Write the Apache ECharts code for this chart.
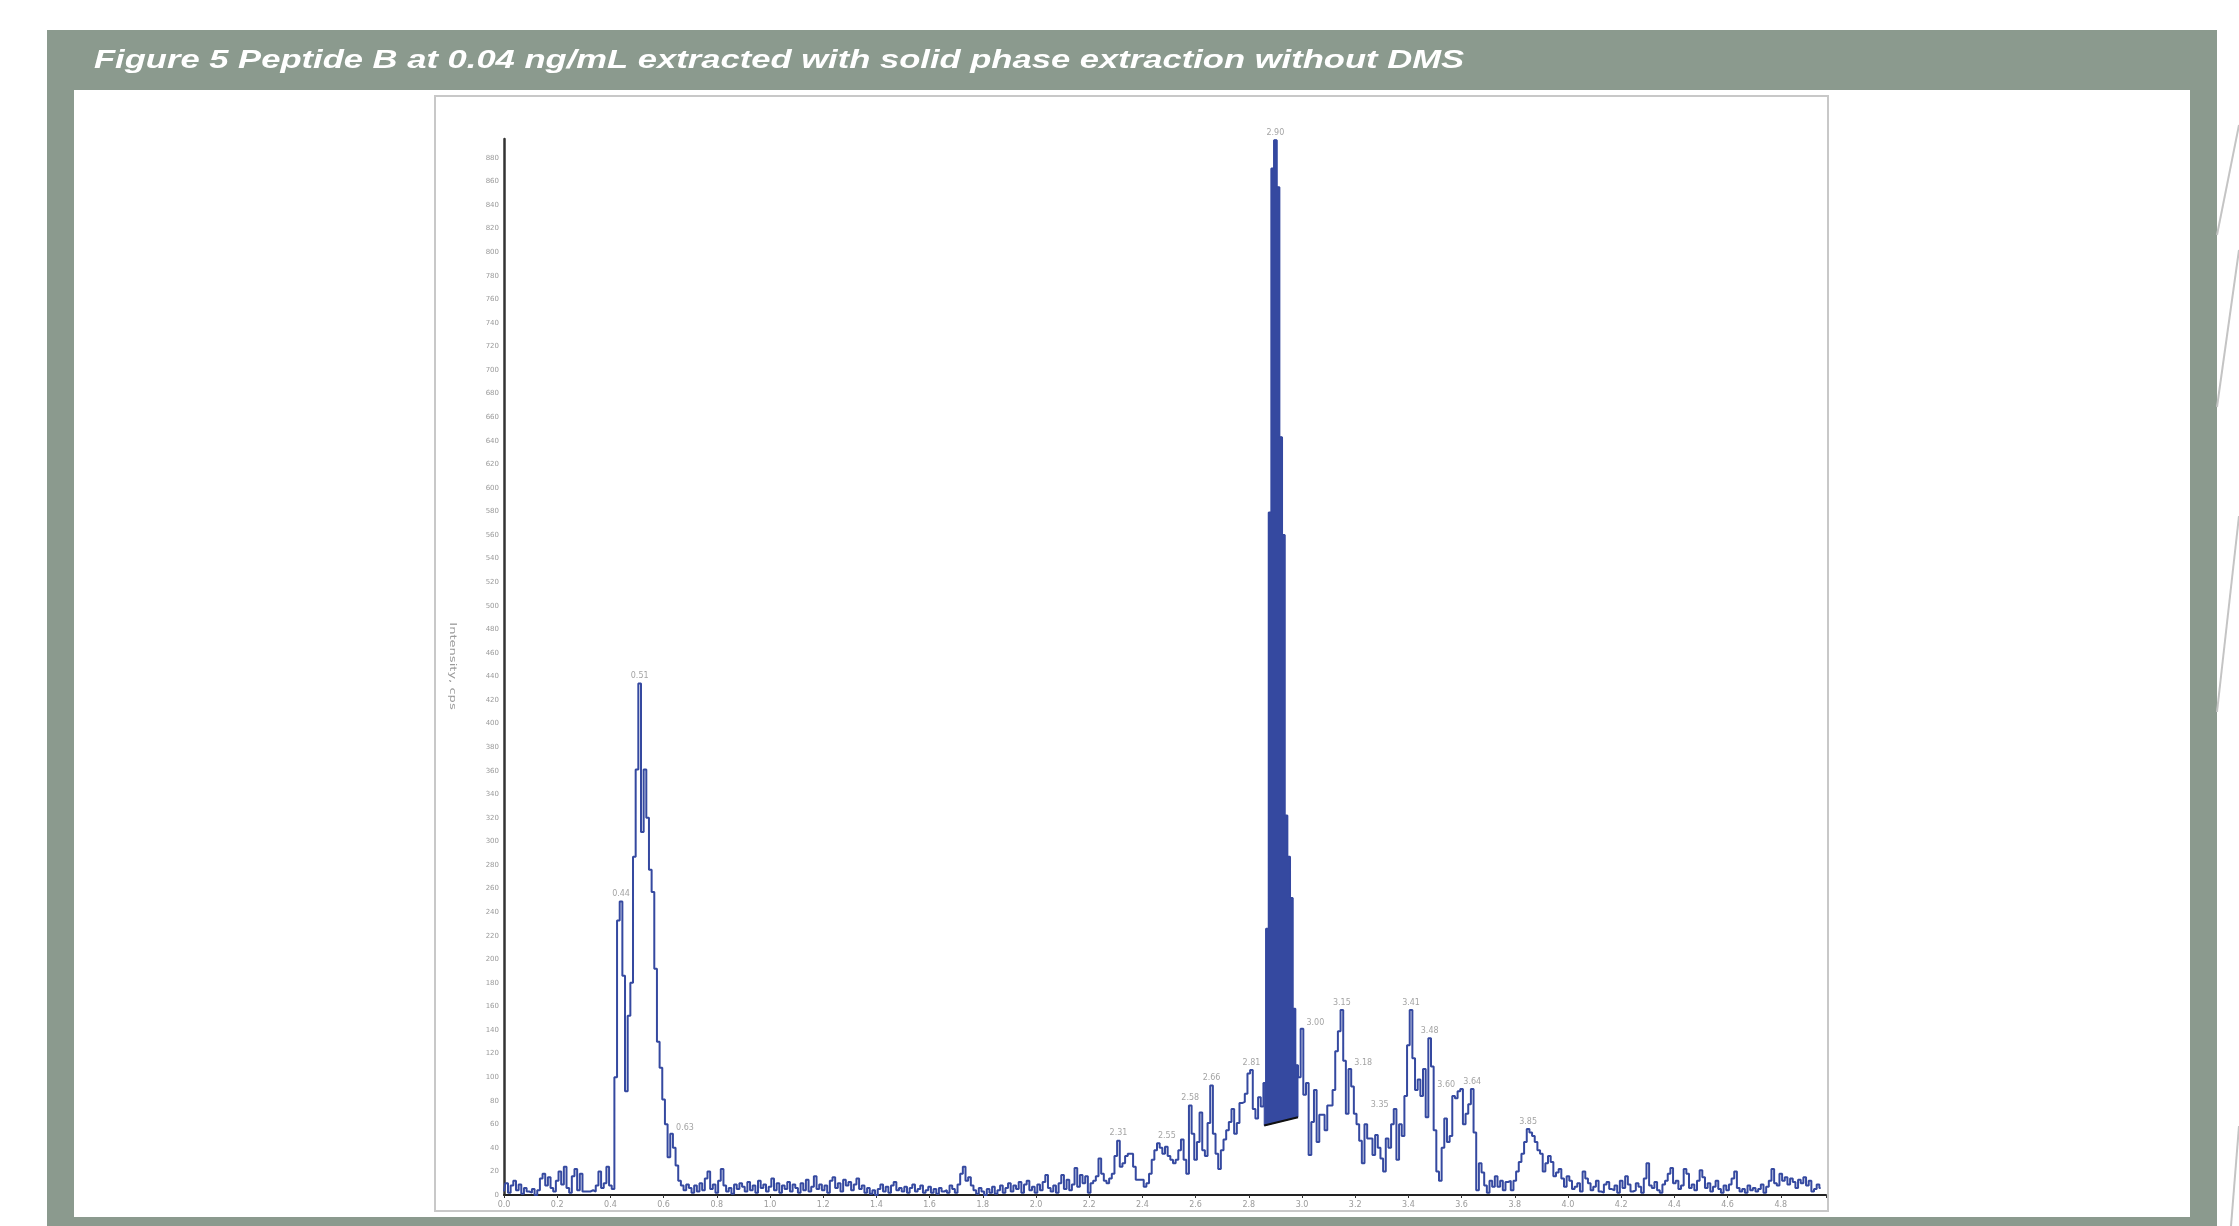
<!DOCTYPE html>
<html>
<head>
<meta charset="utf-8">
<script src="https://cdn.jsdelivr.net/npm/echarts@6/dist/echarts.min.js"></script>
<style>
html,body{margin:0;padding:0;background:#fff;}
#chart{width:2239px;height:1226px;}
</style>
</head>
<body>
<div id="chart"></div>
<script>
// ---- DATA ----
const titleText = 'Figure 5 Peptide B at 0.04 ng/mL extracted with solid phase extraction without DMS';
const yAxisName = 'Intensity, cps';
const timeStep = 0.01;   // min, sampling grid of the trace
// intensity (cps), one value per 0.01 min, starting at 0.00 min
const seg0 = [3,10,2,8,12,4,9,1,6,3, 2,5,0,4,14,18,8,15,6,3, 12,20,9,24,6,2,16,22,4,18, 3,3,3,4,3,8,20,6,10,24,
  8,5,100,233,249,186,88,152,180,287];
const seg05 = [361,434,308,361,320,276,257,192,130,108, 81,60,32,52,40,25,12,8,4,9, 6,2,8,3,10,4,14,20,5,9,
  2,12,22,8,3,6,1,9,5,10, 7,3,11,4,8,2,12,6,9,3];
const seg10 = [7,14,4,10,2,8,5,11,3,9, 6,2,10,4,13,3,7,16,5,9, 4,8,2,12,15,6,10,3,13,8, 11,4,9,14,5,8,2,6,1,4,
  0,5,9,3,7,2,8,11,4,6];
const seg15 = [3,7,2,6,9,3,5,8,2,4, 7,2,5,1,6,3,4,2,8,5, 2,9,18,24,12,15,8,4,1,6, 3,0,5,2,7,1,4,8,2,6,
  10,3,8,5,11,2,9,12,4,7];
const seg20 = [2,9,4,11,17,6,3,8,2,10, 17,5,13,4,9,23,7,17,10,16, 2,10,12,16,31,18,12,10,14,18, 33,46,24,27,33,35,35,24,13,13,
  13,7,10,18,30,38,44,40,35,41];
const seg25 = [33,30,27,30,38,47,30,18,76,52, 30,45,70,38,33,61,93,52,35,22, 38,47,55,62,73,52,61,78,79,86,
  103,106,73,65,83,75,95,226,579,871, 895,855,643,560,322,287,252,158,110,100];
const seg30 = [141,85,95,34,62,89,45,68,68,55, 76,76,89,122,139,157,114,69,107,92, 69,60,46,27,60,48,48,34,51,40,
  31,20,48,40,60,73,30,60,50,84, 127,157,116,89,98,84,107,66,133,109];
const seg35 = [55,20,12,40,65,45,50,84,82,88, 90,60,69,77,90,53,4,27,19,8, 2,12,7,16,7,12,4,11,12,4,
  12,20,28,35,45,56,53,50,45,38, 35,20,27,33,28,16,19,22,14,7];
const seg40 = [16,12,5,7,10,3,20,14,10,4, 7,12,3,2,9,11,5,4,8,2, 12,6,16,9,3,4,10,7,2,14, 27,8,6,11,4,2,9,12,18,23,
  10,12,5,8,22,18,6,9,4,12];
const seg45 = [21,15,6,10,3,7,12,5,2,8, 4,9,14,20,6,3,5,2,8,4, 6,3,5,9,2,7,12,22,10,8, 18,12,15,9,14,11,6,13,10,15,
  8,12,3,5,9,6];
// integrated (filled) peak: start/end time and baseline intensities
const fillTimes = [2.858, 2.985];
const fillBase = [59, 66];
// peak annotations
const peakTimes = [0.44,0.51,0.63,2.31,2.55,2.58,2.66,2.81,2.90,3.00,3.15,3.18,3.35,3.41,3.48,3.60,3.64,3.85];
const peakValues = [249,434,52,46,47,76,93,106,895,141,157,107,73,157,133,90,90,56];
const peakTexts = ['0.44','0.51','0.63','2.31','2.55','2.58','2.66','2.81','2.90','3.00','3.15','3.18','3.35','3.41','3.48','3.60','3.64','3.85'];
// axes
const xMin = 0, xMax = 4.97, xStep = 0.2;
const yMin = 0, yMax = 896, yStep = 20;

// ---- BUILD ----
const intensity = [].concat(seg0, seg05, seg10, seg15, seg20, seg25, seg30, seg35, seg40, seg45);
const trace = intensity.map((v, i) => [+(i * timeStep).toFixed(2), v]);

const rightLabels = new Set(['0.63','3.00','3.18']);
const leftLabels = new Set(['2.55','3.35','3.60']);
const labelData = peakTimes.map((t, i) => {
  const txt = peakTexts[i];
  let label = {position: 'top', distance: 3};
  if (rightLabels.has(txt)) label = {position: 'right', distance: 4, offset: [0, -6]};
  if (leftLabels.has(txt)) label = {position: 'left', distance: 6, offset: [0, -4]};
  return {value: [t, peakValues[i]], name: txt, label: label};
});

const chart = echarts.init(document.getElementById('chart'), null, {renderer: 'canvas'});
const blue = '#3549a0';
const option = {
  animation: false,
  backgroundColor: '#ffffff',
  graphic: [
    {type: 'rect', z: 0, shape: {x: 47, y: 30, width: 2170, height: 1196}, style: {fill: '#8b9a8e'}},
    {type: 'rect', z: 0, shape: {x: 74, y: 90, width: 2116, height: 1127}, style: {fill: '#ffffff'}},
    {type: 'rect', z: 0, shape: {x: 435, y: 96, width: 1393, height: 1115}, style: {fill: 'none', stroke: '#c8c8c8', lineWidth: 2}},
    {type: 'line', z: 0, shape: {x1: 2217, y1: 235, x2: 2239, y2: 125}, style: {stroke: '#c4c4c4', lineWidth: 2}},
    {type: 'line', z: 0, shape: {x1: 2217, y1: 407, x2: 2239, y2: 250}, style: {stroke: '#c4c4c4', lineWidth: 2}},
    {type: 'line', z: 0, shape: {x1: 2217, y1: 712, x2: 2239, y2: 516}, style: {stroke: '#c4c4c4', lineWidth: 2}},
    {type: 'line', z: 0, shape: {x1: 2231, y1: 1226, x2: 2239, y2: 1126}, style: {stroke: '#c4c4c4', lineWidth: 2}},
    {type: 'text', z: 1, x: 94, y: 61, scaleX: 1.33, style: {text: titleText, fill: '#ffffff',
      font: 'italic bold 26px "Liberation Sans", Arial, sans-serif', verticalAlign: 'middle', align: 'left'}},
    {type: 'text', z: 1, x: 452, y: 666, rotation: -Math.PI / 2, scaleX: 1.45, style: {text: yAxisName, fill: '#9a9a9a',
      font: '9px "DejaVu Sans", sans-serif', verticalAlign: 'middle', align: 'center'}}
  ],
  grid: {left: 504, top: 139, width: 1322, height: 1056, containLabel: false},
  xAxis: {
    type: 'value', min: xMin, max: xMax, interval: xStep,
    axisLine: {lineStyle: {color: '#222', width: 2}},
    axisTick: {show: true, length: 3, lineStyle: {color: '#333', width: 1}},
    axisLabel: {color: '#9a9a9a', fontSize: 8, margin: 6, fontFamily: 'DejaVu Sans',
      formatter: v => (Math.abs(v / xStep - Math.round(v / xStep)) < 1e-6 ? v.toFixed(1) : '')},
    splitLine: {show: false}
  },
  yAxis: {
    type: 'value', min: yMin, max: yMax, interval: yStep,
    axisLine: {show: true, lineStyle: {color: '#333', width: 2.5}},
    axisTick: {show: false},
    axisLabel: {color: '#9a9a9a', fontSize: 7, margin: 5, fontFamily: 'DejaVu Sans',
      formatter: v => (v % yStep === 0 ? String(v) : '')},
    splitLine: {show: false}
  },
  series: [
    {
      type: 'custom', z: 3, silent: true,
      data: [[fillTimes[0], fillBase[0], fillTimes[1], fillBase[1]]],
      renderItem: function (params, api) {
        const t0 = fillTimes[0], t1 = fillTimes[1], h = timeStep / 2;
        const pts = [];
        trace.forEach(function (p) {
          const a = p[0] - h, b = p[0] + h;
          if (b <= t0 || a >= t1) return;
          pts.push(api.coord([Math.max(a, t0), p[1]]));
          pts.push(api.coord([Math.min(b, t1), p[1]]));
        });
        const e1 = api.coord([t1, fillBase[1]]);
        const s0 = api.coord([t0, fillBase[0]]);
        pts.push(e1); pts.push(s0);
        return {
          type: 'group',
          children: [
            {type: 'polygon', shape: {points: pts}, style: {fill: blue, stroke: blue, lineWidth: 1}},
            {type: 'line', shape: {x1: s0[0], y1: s0[1], x2: e1[0], y2: e1[1]}, style: {stroke: '#111', lineWidth: 2}}
          ]
        };
      }
    },
    {
      type: 'line', z: 2, data: trace, step: 'middle', showSymbol: false, symbol: 'none',
      lineStyle: {color: blue, width: 2}, silent: true
    },
    {
      type: 'scatter', z: 4, data: labelData, symbolSize: 1, silent: true,
      itemStyle: {color: 'rgba(0,0,0,0)'},
      label: {show: true, formatter: p => p.name, color: '#8c8c8c', fontSize: 8, fontFamily: 'DejaVu Sans'}
    }
  ]
};
chart.setOption(option);
</script>
</body>
</html>
